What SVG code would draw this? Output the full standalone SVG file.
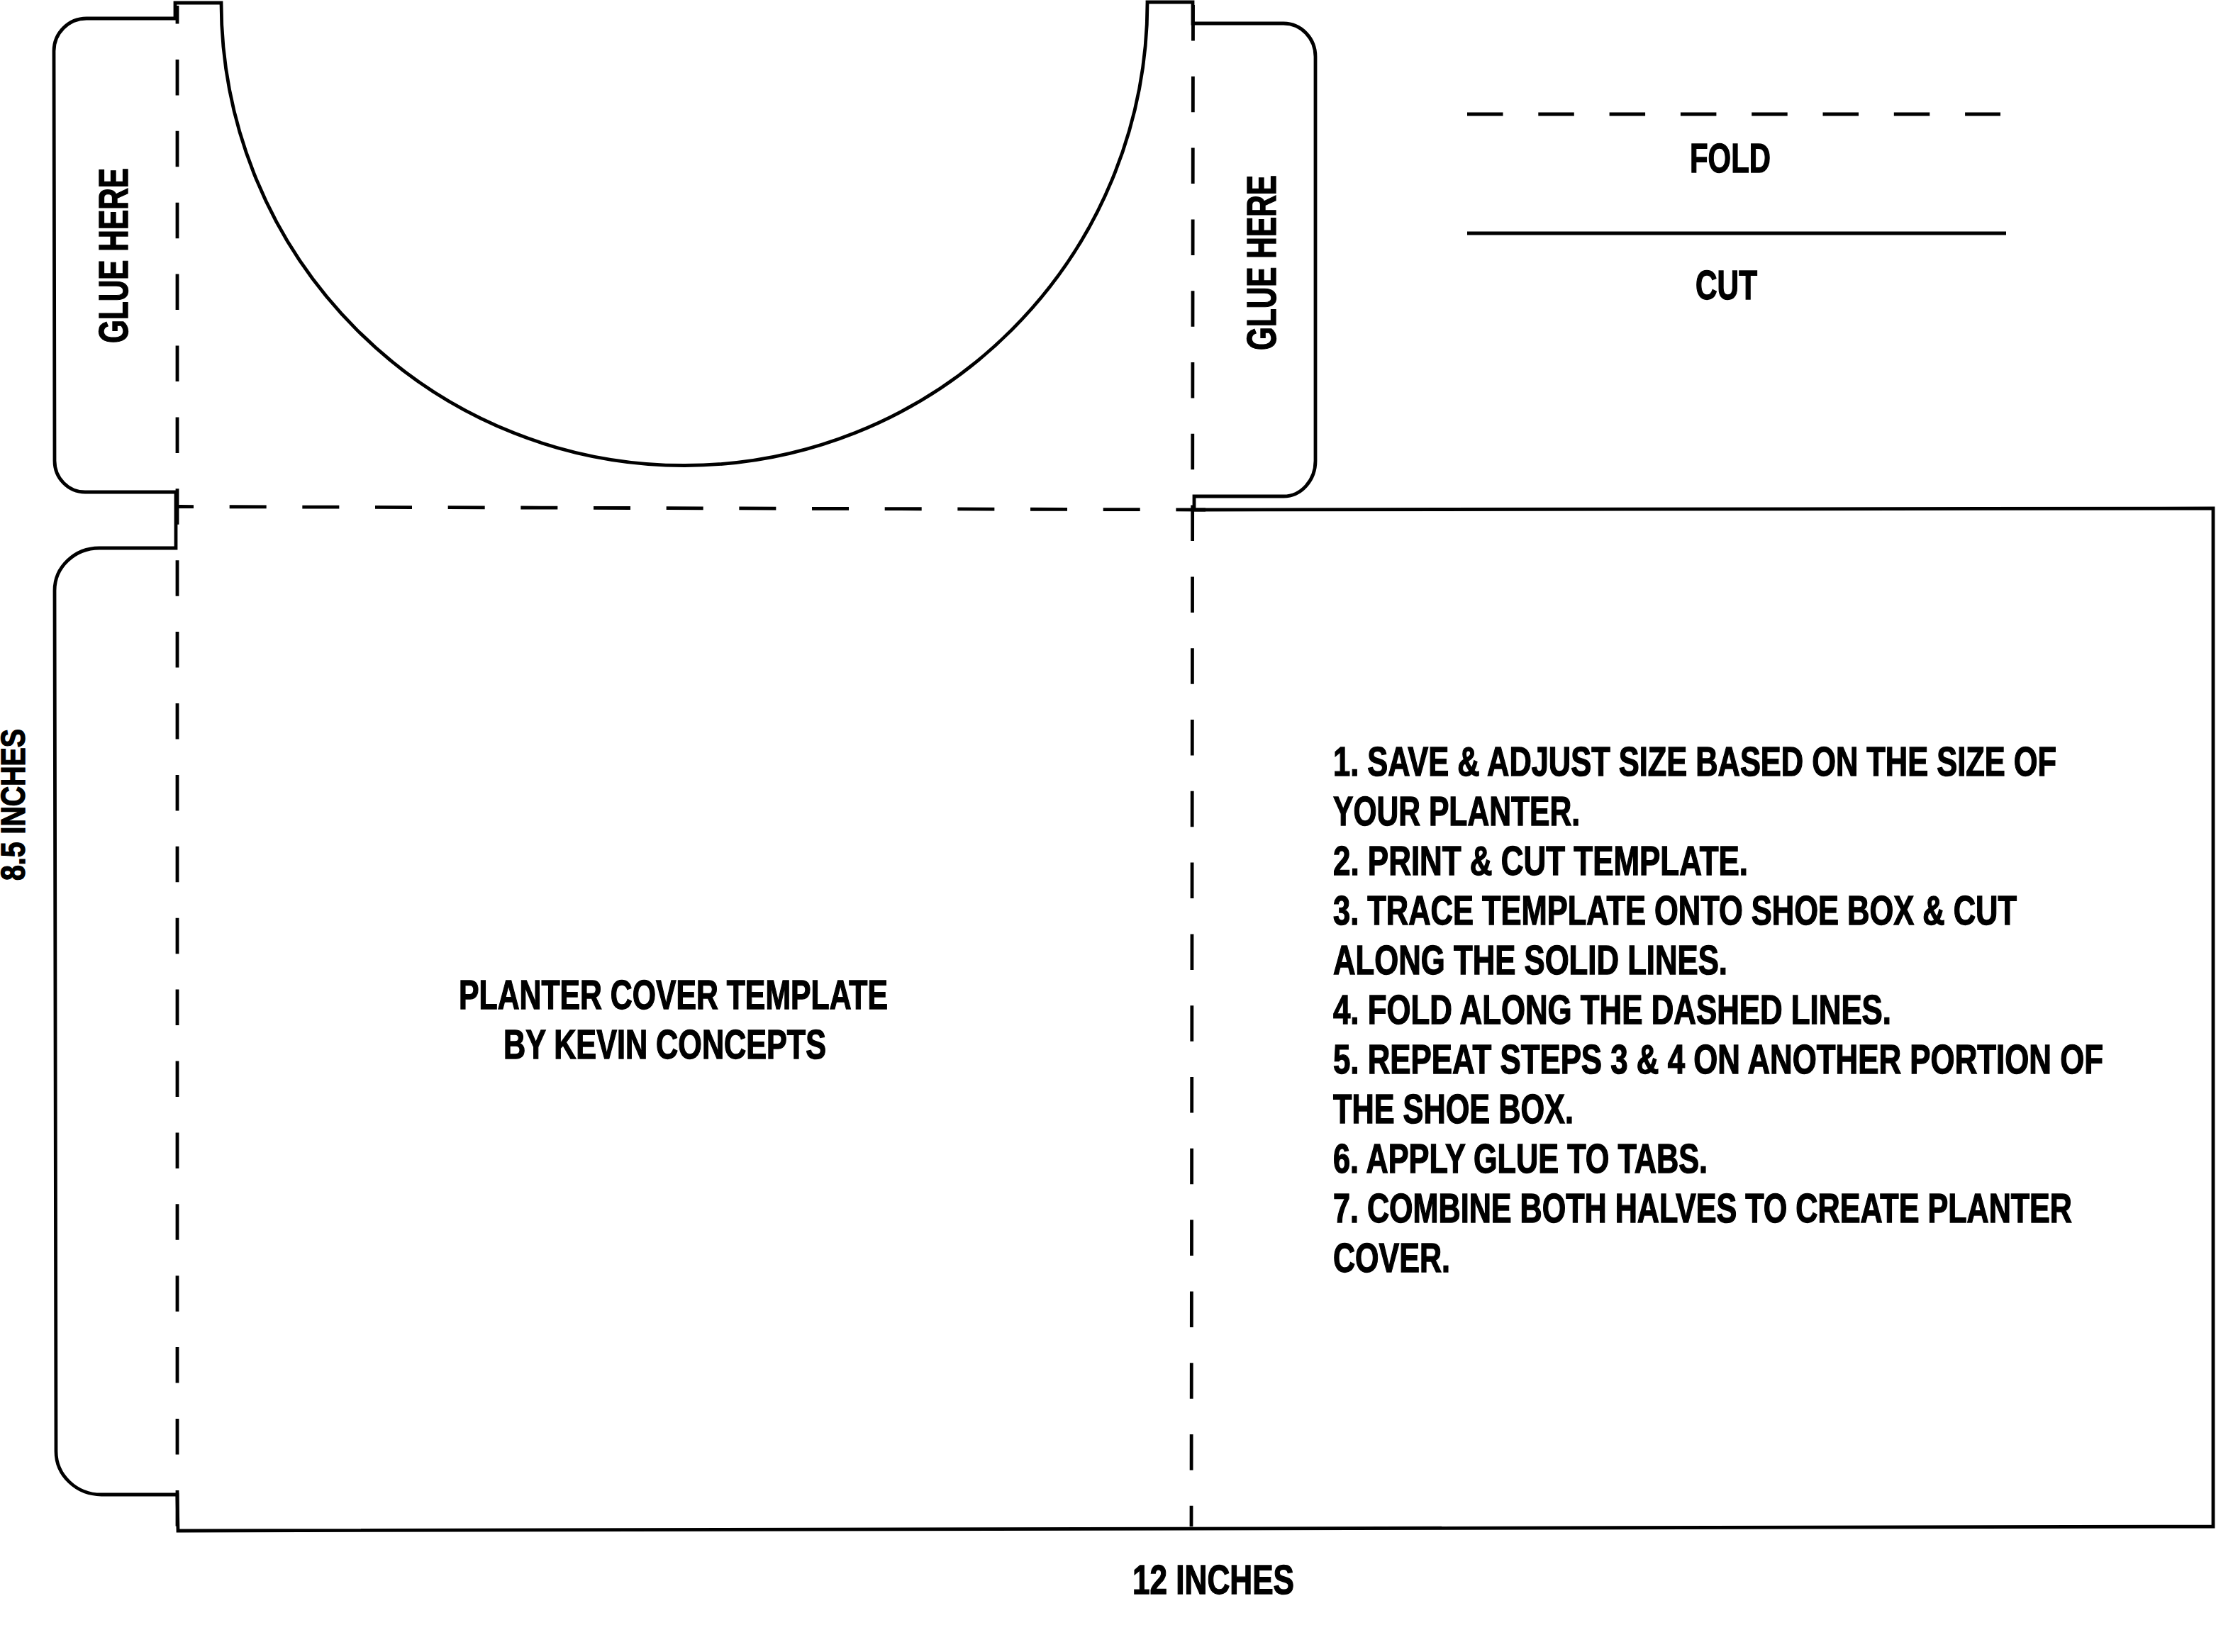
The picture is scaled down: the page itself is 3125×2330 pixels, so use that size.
<svg xmlns="http://www.w3.org/2000/svg" width="3125" height="2330" viewBox="0 0 3125 2330">
<style>
.l{fill:none;stroke:#000;stroke-width:4.8}
.t{font-family:"Liberation Sans",Arial,sans-serif;font-weight:700;font-size:57px;fill:#000;stroke:#000;stroke-width:1.4}
</style>
<rect width="3125" height="2330" fill="#fff"/>
<g id="template-outline">
<path class="l" d="M247,26 V4 H312 A653,653 0 0 0 1618,3 H1682 V33 H1810 A45,47 0 0 1 1855,80 V650 A45,50 0 0 1 1810,700 H1684 V719 L3121,717 V2153 L251,2159 L250,2108 H143 A64,61 0 0 1 79,2047 L77,833 A63,60 0 0 1 140,773 H248 V694 H120 A43,44 0 0 1 77,650 L76,72 A46,46 0 0 1 122,26 Z"/>
</g>
<g id="fold-lines">
<path class="l" stroke-dasharray="50.5 50.4" stroke-dashoffset="25" d="M250,8 V2158"/>
<path class="l" stroke-dasharray="50.5 50.3" stroke-dashoffset="0" d="M1682.5,7 L1680,2153"/>
<path class="l" stroke-dasharray="52 50.67" stroke-dashoffset="29" d="M250,714.5 L1700,719"/>
</g>
<g id="legend-fold">
<path class="l" stroke-dasharray="50.5 49.8" d="M2069,161 H2821"/>
<text class="t" x="2383" y="243" textLength="114" lengthAdjust="spacingAndGlyphs">FOLD</text>
</g>
<g id="legend-cut">
<path class="l" d="M2069,329 H2829"/>
<text class="t" x="2391" y="422" textLength="87" lengthAdjust="spacingAndGlyphs">CUT</text>
</g>
<g id="glue-left">
<text class="t" transform="translate(180,484) rotate(-90)" textLength="247" lengthAdjust="spacingAndGlyphs">GLUE HERE</text>
</g>
<g id="glue-right">
<text class="t" transform="translate(1799,494) rotate(-90)" textLength="247" lengthAdjust="spacingAndGlyphs">GLUE HERE</text>
</g>
<g id="dimension-height">
<text class="t" style="font-size:48px" transform="translate(35,1242) rotate(-90)" textLength="214" lengthAdjust="spacingAndGlyphs">8.5 INCHES</text>
</g>
<g id="dimension-width">
<text class="t" x="1597" y="2248" textLength="228" lengthAdjust="spacingAndGlyphs">12 INCHES</text>
</g>
<g id="title">
<text class="t" x="647" y="1423" textLength="605" lengthAdjust="spacingAndGlyphs">PLANTER COVER TEMPLATE</text>
<text class="t" x="710" y="1493" textLength="455" lengthAdjust="spacingAndGlyphs">BY KEVIN CONCEPTS</text>
</g>
<g id="instructions">
<text class="t" x="1880" y="1094" textLength="1020" lengthAdjust="spacingAndGlyphs">1. SAVE &amp; ADJUST SIZE BASED ON THE SIZE OF</text>
<text class="t" x="1880" y="1164" textLength="348" lengthAdjust="spacingAndGlyphs">YOUR PLANTER.</text>
<text class="t" x="1880" y="1234" textLength="585" lengthAdjust="spacingAndGlyphs">2. PRINT &amp; CUT TEMPLATE.</text>
<text class="t" x="1880" y="1304" textLength="964" lengthAdjust="spacingAndGlyphs">3. TRACE TEMPLATE ONTO SHOE BOX &amp; CUT</text>
<text class="t" x="1880" y="1374" textLength="556" lengthAdjust="spacingAndGlyphs">ALONG THE SOLID LINES.</text>
<text class="t" x="1880" y="1444" textLength="787" lengthAdjust="spacingAndGlyphs">4. FOLD ALONG THE DASHED LINES.</text>
<text class="t" x="1880" y="1514" textLength="1086" lengthAdjust="spacingAndGlyphs">5. REPEAT STEPS 3 &amp; 4 ON ANOTHER PORTION OF</text>
<text class="t" x="1880" y="1584" textLength="339" lengthAdjust="spacingAndGlyphs">THE SHOE BOX.</text>
<text class="t" x="1880" y="1654" textLength="528" lengthAdjust="spacingAndGlyphs">6. APPLY GLUE TO TABS.</text>
<text class="t" x="1880" y="1724" textLength="1042" lengthAdjust="spacingAndGlyphs">7. COMBINE BOTH HALVES TO CREATE PLANTER</text>
<text class="t" x="1880" y="1794" textLength="165" lengthAdjust="spacingAndGlyphs">COVER.</text>
</g>
</svg>
